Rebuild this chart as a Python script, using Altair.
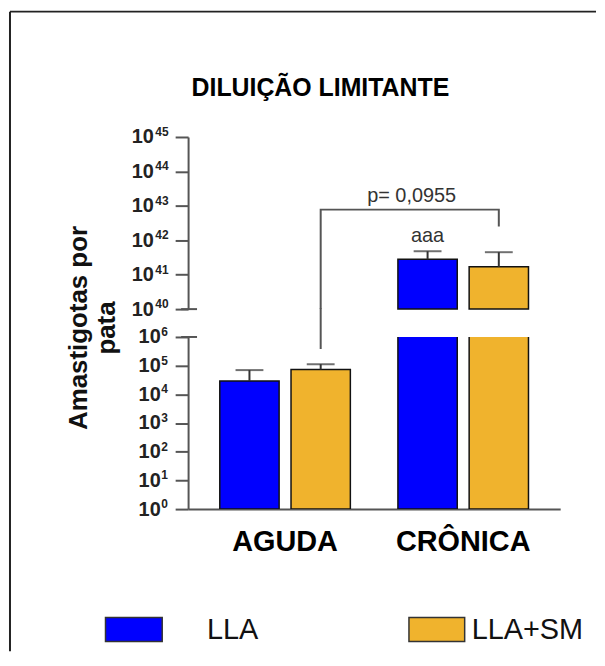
import altair as alt
import pandas as pd

# ---------------- data ----------------
groups = ["AGUDA", "CRÔNICA"]
series = ["LLA", "LLA+SM"]
series_colors = ["#0000FF", "#F0B32D"]

bar_group = ["AGUDA", "AGUDA", "CRÔNICA", "CRÔNICA"]
bar_series = ["LLA", "LLA+SM", "LLA", "LLA+SM"]
bar_mean = [2.9e4, 7.4e4, 2.8e41, 1.7e41]
bar_upper = [7.0e4, 1.13e5, 4.8e41, 4.5e41]

upper_ticks = [1e40, 1e41, 1e42, 1e43, 1e44, 1e45]
upper_exponents = ["40", "41", "42", "43", "44", "45"]
lower_ticks = [1e0, 1e1, 1e2, 1e3, 1e4, 1e5, 1e6]
lower_exponents = ["0", "1", "2", "3", "4", "5", "6"]
tick_base = "10"

bracket_group = ["AGUDA", "AGUDA", "CRÔNICA", "CRÔNICA"]
bracket_y = [1e40, 10 ** 42.89, 10 ** 42.89, 10 ** 42.40]
bracket_low = [10 ** 5.58, 1e7]

p_text = "p= 0,0955"
sig_text = "aaa"
title_text = "DILUIÇÃO LIMITANTE"
y_title = ["Amastigotas por", "pata"]

# ---------------- tables ----------------
bars = pd.DataFrame({"group": bar_group, "series": bar_series,
                     "mean": bar_mean, "upper": bar_upper})
bracket = pd.DataFrame({"group": bracket_group, "series": ["LLA+SM"] * 4,
                        "y": bracket_y, "ord": list(range(4))})
bracket_lo = pd.DataFrame({"group": ["AGUDA"], "series": ["LLA+SM"],
                           "y": [bracket_low[0]], "y2": [bracket_low[1]]})
p_df = pd.DataFrame({"group": ["CRÔNICA"], "series": ["LLA"],
                     "y": [bracket_y[1]], "t": [p_text]})
sig_df = pd.DataFrame({"group": ["CRÔNICA"], "series": ["LLA"],
                       "y": [bar_upper[2]], "t": [sig_text]})
legend_df = pd.DataFrame({"series": series})
u_ticks_df = pd.DataFrame({"y": upper_ticks, "e": upper_exponents})
l_ticks_df = pd.DataFrame({"y": lower_ticks, "e": lower_exponents})

FONT = "Liberation Sans"
AX = "#555555"
W, H = 374, 173


def yaxis(ticks, pad):
    return alt.Axis(values=ticks, labelExpr="'%s'" % tick_base, title=None,
                    grid=False, domainColor=AX, domainWidth=2, tickColor=AX,
                    tickWidth=2, tickSize=13, labelPadding=pad, labelFont=FONT,
                    labelFontSize=20, labelFontWeight="bold", labelColor="#222")


yscale_u = alt.Scale(type="log", domain=[1e40, 1e45])
yscale_l = alt.Scale(type="log", domain=[1e0, 1e6])
yax_u = yaxis(upper_ticks, 22)
yax_l = yaxis(lower_ticks, 15)

xscale = alt.Scale(domain=groups, paddingInner=0.267, paddingOuter=0.178)
x_u = alt.X("group:N", scale=xscale, axis=None)
x_l = alt.X("group:N", scale=xscale,
            axis=alt.Axis(title=None, ticks=False, labelAngle=0, labelFont=FONT,
                          labelFontSize=29, labelFontWeight="bold",
                          labelColor="#000", labelPadding=19, domainColor=AX,
                          domainWidth=2, labelBaseline="top"))
xoff = alt.XOffset("series:N", scale=alt.Scale(domain=series, paddingInner=0.167,
                                               paddingOuter=0))
col = alt.Color("series:N", scale=alt.Scale(domain=series, range=series_colors),
                legend=None)

# ---------------- upper panel ----------------
hi = "datum.mean > 1e20"
lo = "datum.mean < 1e20"

u_bars = alt.Chart(bars).transform_filter(hi).mark_bar(
    stroke="#111", strokeWidth=1.5).encode(
    x=x_u, xOffset=xoff, color=col,
    y=alt.Y("mean:Q", scale=yscale_u, axis=yax_u), y2=alt.Y2Datum(1e40))
u_stem = alt.Chart(bars).transform_filter(hi).mark_rule(
    color="#333", strokeWidth=2).encode(
    x=x_u, xOffset=xoff,
    y=alt.Y("mean:Q", scale=yscale_u, axis=yax_u), y2="upper:Q")
u_cap = alt.Chart(bars).transform_filter(hi).mark_tick(
    color="#333", thickness=2, size=28).encode(
    x=x_u, xOffset=xoff, y=alt.Y("upper:Q", scale=yscale_u, axis=yax_u))
u_sig = alt.Chart(sig_df).mark_text(
    font=FONT, fontSize=20, color="#333", dy=-9, baseline="alphabetic").encode(
    x=x_u, xOffset=xoff, y=alt.Y("y:Q", scale=yscale_u, axis=yax_u), text="t:N")
u_bracket = alt.Chart(bracket).mark_line(color=AX, strokeWidth=2).encode(
    x=x_u, xOffset=xoff, y=alt.Y("y:Q", scale=yscale_u, axis=yax_u),
    order="ord:Q")
u_p = alt.Chart(p_df).mark_text(
    font=FONT, fontSize=20, color="#333", dx=-16, dy=-4, baseline="bottom").encode(
    x=x_u, xOffset=xoff, y=alt.Y("y:Q", scale=yscale_u, axis=yax_u), text="t:N")
u_break = alt.Chart(pd.DataFrame({"y": [upper_ticks[0]]})).mark_rule(
    color=AX, strokeWidth=2).encode(
    x=alt.value(-7), x2=alt.value(9),
    y=alt.Y("y:Q", scale=yscale_u, axis=yax_u))
u_exp = alt.Chart(u_ticks_df).mark_text(
    font=FONT, fontSize=12, fontWeight="bold", color="#222", align="left",
    baseline="middle", dy=-5).encode(
    x=alt.value(-33), y=alt.Y("y:Q", scale=yscale_u, axis=yax_u), text="e:N")
u_title = alt.Chart(pd.DataFrame({"t": [title_text]})).mark_text(
    font=FONT, fontSize=25, fontWeight="bold", color="#000",
    align="center", baseline="middle").encode(
    x=alt.value(133), y=alt.value(-49), text="t:N")

upper = alt.layer(u_bars, u_stem, u_cap, u_sig, u_bracket, u_p, u_break,
                  u_exp, u_title).properties(width=W, height=H)

# ---------------- lower panel ----------------
l_bars = alt.Chart(bars).mark_bar(
    stroke="#111", strokeWidth=1.5, clip=True).encode(
    x=x_l, xOffset=xoff, color=col,
    y=alt.Y("mean:Q", scale=yscale_l, axis=yax_l), y2=alt.Y2Datum(1.0))
l_stem = alt.Chart(bars).transform_filter(lo).mark_rule(
    color="#333", strokeWidth=2).encode(
    x=x_l, xOffset=xoff,
    y=alt.Y("mean:Q", scale=yscale_l, axis=yax_l), y2="upper:Q")
l_cap = alt.Chart(bars).transform_filter(lo).mark_tick(
    color="#333", thickness=2, size=28).encode(
    x=x_l, xOffset=xoff, y=alt.Y("upper:Q", scale=yscale_l, axis=yax_l))
l_bracket = alt.Chart(bracket_lo).mark_rule(color=AX, strokeWidth=2).encode(
    x=x_l, xOffset=xoff, y=alt.Y("y:Q", scale=yscale_l, axis=yax_l), y2="y2:Q")
l_break = alt.Chart(pd.DataFrame({"y": [lower_ticks[-1]]})).mark_rule(
    color=AX, strokeWidth=2).encode(
    x=alt.value(-7), x2=alt.value(9),
    y=alt.Y("y:Q", scale=yscale_l, axis=yax_l))
l_exp = alt.Chart(l_ticks_df).mark_text(
    font=FONT, fontSize=12, fontWeight="bold", color="#222", align="left",
    baseline="middle", dy=-5).encode(
    x=alt.value(-27), y=alt.Y("y:Q", scale=yscale_l, axis=yax_l), text="e:N")
l_ytitle = alt.Chart(pd.DataFrame({"k": [0]})).mark_text(
    font=FONT, fontSize=26, fontWeight="bold", color="#111", angle=270,
    align="center", baseline="middle", lineHeight=29, text=y_title).encode(
    x=alt.value(-110), y=alt.value(-9))

leg_rect1 = alt.Chart(legend_df).transform_filter(
    alt.datum.series == series[0]).mark_rect(stroke="#333", strokeWidth=1.5).encode(
    x=alt.value(-83), x2=alt.value(-26), y=alt.value(282), y2=alt.value(306),
    color=col)
leg_text1 = alt.Chart(legend_df).transform_filter(
    alt.datum.series == series[0]).mark_text(
    font=FONT, fontSize=29, color="#111", align="left", baseline="middle").encode(
    x=alt.value(19), y=alt.value(295), text="series:N")
leg_rect2 = alt.Chart(legend_df).transform_filter(
    alt.datum.series == series[1]).mark_rect(stroke="#333", strokeWidth=1.5).encode(
    x=alt.value(222), x2=alt.value(278), y=alt.value(282), y2=alt.value(306),
    color=col)
leg_text2 = alt.Chart(legend_df).transform_filter(
    alt.datum.series == series[1]).mark_text(
    font=FONT, fontSize=29, color="#111", align="left", baseline="middle").encode(
    x=alt.value(285), y=alt.value(295), text="series:N")

frame_df = pd.DataFrame({"k": [0]})
frame_top = alt.Chart(frame_df).mark_rule(color="#222", strokeWidth=2).encode(
    x=alt.value(-179), x2=alt.value(410), y=alt.value(-327))
frame_left = alt.Chart(frame_df).mark_rule(color="#222", strokeWidth=2).encode(
    x=alt.value(-179), y=alt.value(-327), y2=alt.value(316))

lower = alt.layer(l_bars, l_stem, l_cap, l_bracket, l_break, l_exp, l_ytitle,
                  leg_rect1, leg_text1, leg_rect2, leg_text2,
                  frame_top, frame_left).properties(width=W, height=H)

chart = alt.vconcat(upper, lower, spacing=28, bounds="flush").resolve_scale(
    y="independent").properties(
    padding={"left": 1, "top": 1, "right": 0, "bottom": 0},
    background="white"
).configure_view(stroke="transparent", strokeWidth=0)

chart.save("out.html", embed_options={"renderer": "svg", "actions": False})
